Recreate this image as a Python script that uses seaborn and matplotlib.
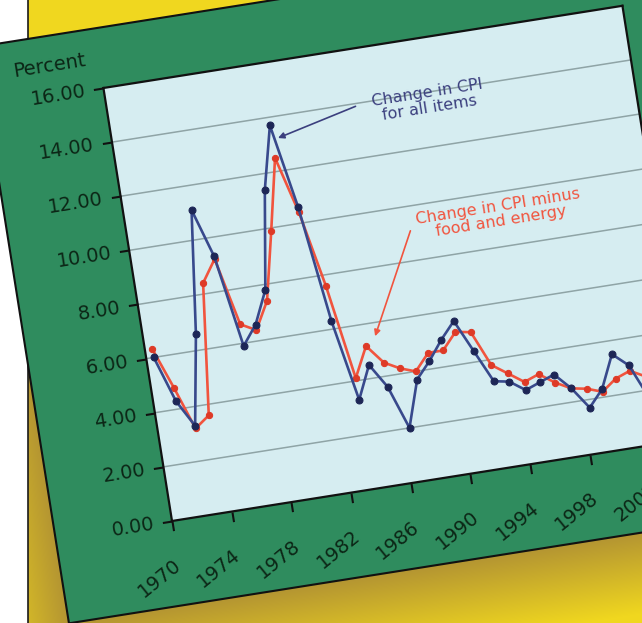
import numpy as np
import pandas as pd
import matplotlib
matplotlib.use("Agg")
import matplotlib.pyplot as plt
import seaborn as sns
from matplotlib.colors import to_rgb
from matplotlib.patches import Rectangle
from matplotlib.transforms import Affine2D
import mpl_toolkits.axisartist.floating_axes as floating_axes
from mpl_toolkits.axisartist.grid_finder import FixedLocator, DictFormatter

# yearly % change
years = list(range(1970, 2003))
cpi_all = [6.0, 4.3, 3.3, 6.6, 11.1, 9.3, 5.9, 6.6, 7.8, 11.4,
           13.7, 10.6, 6.3, 3.3, 4.5, 3.6, 2.0, 3.7, 4.3, 5.0,
           5.6, 4.4, 3.2, 3.1, 2.7, 2.9, 3.1, 2.5, 1.7, 2.3,
           3.5, 3.0, 1.7]
cpi_core = [6.3, 4.8, 3.2, 3.6, 8.4, 9.2, 6.7, 6.4, 7.4, 9.9,
            12.5, 10.4, 7.6, 4.1, 5.2, 4.5, 4.2, 4.0, 4.6, 4.6,
            5.2, 5.1, 3.8, 3.4, 3.0, 3.2, 2.8, 2.5, 2.4, 2.2,
            2.6, 2.8, 2.5]

x_ticks = list(range(1970, 2003, 4))
y_ticks = list(range(0, 17, 2))
y_tick_labels = [f"{v:.2f}" for v in y_ticks]

label_all = "Change in CPI\nfor all items"
label_core = "Change in CPI minus\nfood and energy"

GREEN = "#2f8c5e"
PLOT_BG = "#d6edf1"
GRID = "#8fa4a6"
BLUE = "#38498c"
NAVY = "#1d2656"
BLUE_TXT = "#3b3f7e"
RED = "#f1543e"
DARKRED = "#de3a27"
TXT = "#0c2616"

W, H = 642, 623
fig = plt.figure(figsize=(W / 100, H / 100), dpi=100)

# the whole board is tilted ~9 deg; maps (year, percent) -> figure pixels
tilt = Affine2D().translate(-1970, 0).scale(15.1, 27.4).rotate_deg(9).translate(172, 102)
x_lo, x_hi, y_lo, y_hi = 1970, 2004.8, 0, 16

# background: white page, yellow card with shadow, green board
bg = fig.add_axes([0, 0, 1, 1], zorder=0)
px, py = np.meshgrid(np.arange(28, W) + 0.5, np.arange(H) + 0.5)
a, b = tilt.inverted().transform(np.column_stack([px.ravel(), py.ravel()])).T
dist = np.maximum((-3.1 - b) * 27.4, (1962.2 - a) * 15.1)
dist = np.where(b > 18.2, 200, dist)
t = np.clip(dist / 80, 0, 1).reshape(px.shape)[..., None]
dark, bright = np.array(to_rgb("#b49532")), np.array(to_rgb("#f0d71f"))
bg.imshow(dark + (bright - dark) * t, extent=(28, W, 0, H), origin="lower", aspect="auto")
bg.add_patch(Rectangle((28, -5), W, H + 10, fill=False, edgecolor="#1a1a1a", lw=1.2))
bg.add_patch(Rectangle((1962.2, -3.1), 60, 21.3, transform=tilt + bg.transData,
                       facecolor=GREEN, edgecolor="#111111", lw=1.5))
bg.set_xlim(0, W)
bg.set_ylim(0, H)
bg.axis("off")

# tilted plotting area
corners = tilt.transform([(x_lo, y_lo), (x_hi, y_lo), (x_lo, y_hi), (x_hi, y_hi)])
lo, hi = corners.min(axis=0), corners.max(axis=0)
mid, size = (lo + hi) / 2, (hi - lo) * 1.02
rect = [(mid[0] - size[0] / 2) / W, (mid[1] - size[1] / 2) / H, size[0] / W, size[1] / H]

helper = floating_axes.GridHelperCurveLinear(
    tilt, extremes=(x_lo, x_hi, y_lo, y_hi),
    grid_locator1=FixedLocator(x_ticks),
    grid_locator2=FixedLocator(y_ticks),
    tick_formatter1=DictFormatter({v: str(v) for v in x_ticks}),
    tick_formatter2=DictFormatter(dict(zip(y_ticks, y_tick_labels))))
ax = fig.add_axes(rect, axes_class=floating_axes.FloatingAxes, grid_helper=helper, zorder=1)
ax.patch.set_facecolor(PLOT_BG)

for side in ["left", "bottom", "top", "right"]:
    ax.axis[side].line.set_color("#111111")
    ax.axis[side].line.set_linewidth(1.6)
for side in ["top", "right"]:
    ax.axis[side].toggle(ticks=False, ticklabels=False)
for side in ["left", "bottom"]:
    ticks = ax.axis[side].major_ticks
    ticks.set_tick_out(True)
    ticks.set_ticksize(7)
    ticks.set_color("#111111")
    ticks.set_markeredgewidth(1.5)
    ax.axis[side].major_ticklabels.set_fontsize(14)
    ax.axis[side].major_ticklabels.set_color(TXT)
ax.axis["left"].major_ticklabels.set_pad(6)
xlabels = ax.axis["bottom"].major_ticklabels
xlabels.set_rotation(30)
xlabels.set_ha("right")
xlabels.set_va("center")
xlabels.set_pad(18)

aux = ax.get_aux_axes(tilt)
aux.hlines(y_ticks[1:-1], x_lo, x_hi, colors=GRID, linewidth=1.1, zorder=1)

df = pd.DataFrame({"year": years, "all_items": cpi_all, "core": cpi_core})
df["mid_year"] = df["year"] + 0.5

sns.lineplot(data=df, x="mid_year", y="core", ax=aux, color=RED, linewidth=1.9,
             marker="o", markersize=4.5, markerfacecolor=DARKRED,
             markeredgecolor=DARKRED, legend=False)
sns.lineplot(data=df, x="mid_year", y="all_items", ax=aux, color=BLUE, linewidth=1.9,
             marker="o", markersize=5, markerfacecolor=NAVY,
             markeredgecolor=NAVY, legend=False)

aux.text(1991.1, 13.7, label_all, rotation=9, rotation_mode="anchor", ha="center",
         va="center", fontsize=11.5, color=BLUE_TXT, linespacing=1.05)
aux.text(1994.6, 9.2, label_core, rotation=9, rotation_mode="anchor", ha="center",
         va="center", fontsize=11.5, color=RED, linespacing=1.05)
aux.annotate("", xy=(1980.9, 13.2), xytext=(1986.3, 13.9),
             arrowprops=dict(arrowstyle="-|>", color=BLUE_TXT, lw=1.2,
                             mutation_scale=9, shrinkA=0, shrinkB=0))
aux.annotate("", xy=(1985.2, 5.5), xytext=(1988.6, 9.1),
             arrowprops=dict(arrowstyle="-|>", color=RED, lw=1.2,
                             mutation_scale=9, shrinkA=0, shrinkB=0))
aux.text(1966.7, 17.1, "Percent", rotation=9, rotation_mode="anchor", ha="center",
         va="center", fontsize=14, color=TXT)

fig.savefig("out.png", dpi=100)
